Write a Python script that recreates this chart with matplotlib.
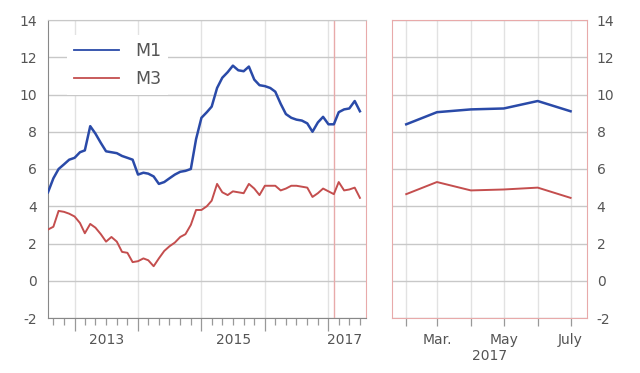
import matplotlib
matplotlib.use("Agg")
import matplotlib.pyplot as plt
import matplotlib.dates as mdates
import pandas as pd
import numpy as np

# monthly series, Aug 2012 .. Jul 2017
months = pd.date_range("2012-08-01", periods=60, freq="MS")
m1 = [4.75, 5.5, 6.0, 6.25, 6.5, 6.6, 6.9, 7.0, 8.3, 7.9,
      7.4, 6.95, 6.9, 6.85, 6.7, 6.6, 6.5, 5.7, 5.8, 5.75,
      5.6, 5.2, 5.3, 5.5, 5.7, 5.85, 5.9, 6.0, 7.6, 8.75,
      9.05, 9.35, 10.35, 10.9, 11.2, 11.55, 11.3, 11.25, 11.5, 10.8,
      10.5, 10.45, 10.35, 10.15, 9.5, 8.95, 8.75, 8.65, 8.6, 8.45,
      8.0, 8.5, 8.8, 8.4, 8.4, 9.05, 9.2, 9.25, 9.65, 9.1]
m3 = [2.75, 2.9, 3.75, 3.7, 3.6, 3.45, 3.1, 2.55, 3.05, 2.85,
      2.5, 2.1, 2.35, 2.1, 1.55, 1.5, 1.0, 1.05, 1.2, 1.1,
      0.78, 1.2, 1.6, 1.85, 2.05, 2.35, 2.5, 3.0, 3.8, 3.8,
      4.0, 4.3, 5.2, 4.75, 4.6, 4.8, 4.75, 4.7, 5.2, 4.95,
      4.6, 5.1, 5.1, 5.1, 4.85, 4.95, 5.1, 5.1, 5.05, 5.0,
      4.5, 4.7, 4.95, 4.8, 4.65, 5.3, 4.85, 4.9, 5.0, 4.45]
zoom_start = pd.Timestamp("2017-02-01")
year_labels = [2013, 2015, 2017]
zoom_labels = ["", "Mar.", "", "May", "", "July"]
yticks = list(range(-2, 15, 2))

BLUE = "#2a4aa8"
RED = "#c44e4e"
PINK = "#e8aaaa"
TXT = "#555555"
HGRID = "#c8c8c8"
VGRID = "#e2e2e2"

plt.rcParams["font.family"] = ["DejaVu Sans"]
plt.rcParams["axes.unicode_minus"] = False

fig = plt.figure(figsize=(6.4, 3.73), dpi=100)
ax1 = fig.add_axes([48 / 640, 1 - 318 / 373, 318 / 640, 298 / 373])
ax2 = fig.add_axes([392 / 640, 1 - 318 / 373, 195 / 640, 298 / 373])

# ---- left panel: full history
ax1.plot(months, m1, color=BLUE, lw=1.8, label="M1", zorder=3)
ax1.plot(months, m3, color=RED, lw=1.4, label="M3", zorder=3)
xend = pd.Timestamp("2017-08-05")
ax1.set_xlim(months[0], xend)
ax1.set_ylim(-2, 14)
ax1.set_yticks(yticks)
ax1.xaxis.set_major_locator(mdates.YearLocator())
ax1.xaxis.set_minor_locator(mdates.MonthLocator(bymonth=[3, 5, 7, 9, 11]))
ax1.xaxis.set_major_formatter(plt.NullFormatter())
ax1.tick_params(axis="x", which="major", length=9, color="#999999", width=0.9)
ax1.tick_params(axis="x", which="minor", length=5, color="#999999", width=0.9)
ax1.tick_params(axis="y", length=0, pad=8, labelsize=10, labelcolor=TXT)
ax1.yaxis.grid(True, color=HGRID, lw=1)
ax1.xaxis.grid(True, which="major", color=VGRID, lw=1)
ax1.set_axisbelow(True)
for s in ("left", "bottom"):
    ax1.spines[s].set_color("#888888")
ax1.spines["top"].set_color(HGRID)
ax1.spines["right"].set_color(PINK)
ax1.axvline(zoom_start, color=PINK, lw=1, zorder=2)

# year labels sit in the middle of each year (or of the visible part)
for yr in year_labels:
    a = pd.Timestamp(f"{yr}-01-01")
    b = min(pd.Timestamp(f"{yr + 1}-01-01"), months[-1])
    mid = a + (b - a) / 2
    ax1.text(mid, -0.075, str(yr), transform=ax1.get_xaxis_transform(),
             ha="center", va="center", fontsize=10, color=TXT)

leg = ax1.legend(loc="upper left", bbox_to_anchor=(0.06, 0.95), borderaxespad=0,
                 frameon=True, fancybox=False, facecolor="white", edgecolor="none",
                 framealpha=1, fontsize=12.5, labelcolor=TXT, handlelength=2.6,
                 handletextpad=0.9, labelspacing=0.6, borderpad=0.4)
for ln in leg.get_lines():
    ln.set_linewidth(1.3)

# ---- right panel: 2017 close-up
sel = months >= zoom_start
z_months = months[sel]
ax2.plot(z_months, np.array(m1)[sel], color=BLUE, lw=1.8, zorder=3)
ax2.plot(z_months, np.array(m3)[sel], color=RED, lw=1.4, zorder=3)
ax2.set_xlim(pd.Timestamp("2017-01-19"), pd.Timestamp("2017-07-16"))
ax2.set_ylim(-2, 14)
ax2.set_yticks(yticks)
ax2.set_xticks(z_months)
ax2.set_xticklabels(zoom_labels)
ax2.set_xlabel("2017", fontsize=10, color=TXT, labelpad=1)
ax2.yaxis.tick_right()
ax2.tick_params(axis="y", length=0, pad=7, labelsize=10, labelcolor=TXT)
ax2.tick_params(axis="x", length=6, color="#999999", width=0.9, pad=5,
                labelsize=10, labelcolor=TXT)
ax2.yaxis.grid(True, color=HGRID, lw=1)
ax2.xaxis.grid(True, color=VGRID, lw=1)
ax2.set_axisbelow(True)
for s in ax2.spines.values():
    s.set_color(PINK)

fig.savefig("out.png", dpi=100)
